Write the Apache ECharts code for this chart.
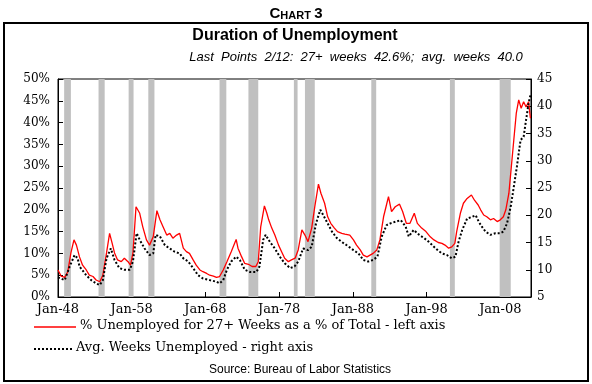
<!DOCTYPE html>
<html><head><meta charset="utf-8">
<script src="https://cdn.jsdelivr.net/npm/echarts@6/dist/echarts.min.js"></script>
<style>html,body{margin:0;padding:0;background:#fff}#c{width:592px;height:384px}</style>
</head><body><div id="c"></div><script>
// % of unemployed out 27+ weeks (left axis)
const redDates = ['1948-01','1948-06','1948-12','1949-05','1949-10','1950-03','1950-07','1950-12','1951-05','1951-11','1952-04','1952-10','1953-03','1953-09','1954-02','1954-08','1955-01','1955-05','1955-09','1956-02','1956-08','1957-01','1957-07','1957-11','1958-03','1958-08','1959-02','1959-07','1960-01','1960-06','1960-12','1961-06','1961-11','1962-04','1962-10','1963-03','1963-08','1964-02','1964-07','1965-01','1965-06','1965-11','1966-05','1966-10','1967-04','1967-09','1968-03','1968-08','1969-02','1969-07','1969-12','1970-06','1970-12','1971-07','1972-03','1972-06','1972-12','1973-05','1973-11','1974-05','1974-11','1975-03','1975-07','1976-01','1976-05','1976-08','1977-01','1977-06','1977-12','1978-05','1978-10','1979-04','1979-09','1980-03','1980-08','1981-02','1981-07','1981-12','1982-06','1982-11','1983-05','1983-09','1984-03','1984-08','1985-01','1985-07','1985-12','1986-07','1986-12','1987-08','1988-02','1988-07','1989-01','1989-06','1989-12','1990-05','1990-10','1991-04','1991-09','1992-03','1992-07','1992-11','1993-04','1993-10','1994-05','1994-10','1995-04','1995-10','1996-05','1996-10','1997-05','1997-12','1998-07','1999-01','1999-08','2000-02','2000-07','2001-01','2001-06','2001-11','2002-02','2002-08','2003-01','2003-07','2004-02','2004-07','2005-01','2005-05','2005-10','2006-03','2006-09','2007-02','2007-08','2008-01','2008-06','2008-10','2009-03','2009-07','2009-11','2010-03','2010-07','2010-11','2011-03','2011-07','2011-11','2012-02'];
const redValues = [6.2,4.8,4.5,5.8,10.1,13.1,11.9,9.2,7.3,6.2,5.0,4.7,3.9,3.5,5.0,10.1,14.6,12.4,10.1,8.5,8.1,8.9,8.1,7.3,10.1,20.7,19.2,16.1,13.1,11.9,13.8,19.8,17.7,16.1,14.2,14.6,13.5,14.2,14.6,11.2,10.4,10.0,8.5,7.3,6.2,5.8,5.4,5.0,4.8,4.5,4.7,6.2,8.1,10.4,13.2,11.2,9.2,7.7,7.5,7.0,7.0,8.1,16.1,20.9,19.2,17.7,15.8,14.2,11.9,10.4,8.9,8.1,8.5,8.9,10.8,15.4,14.2,12.7,15.8,20.7,25.9,23.8,21.5,18.4,16.9,15.8,15.0,14.6,14.4,14.2,13.1,11.9,10.8,9.6,9.2,9.6,10.0,10.8,13.1,18.4,20.7,23.0,19.6,20.7,21.3,19.6,16.9,16.9,19.2,16.9,15.8,15.0,13.8,13.1,12.5,12.3,11.9,11.2,11.5,12.3,15.0,19.2,21.5,22.6,23.4,22.2,21.1,20.0,18.8,18.4,17.7,18.0,17.3,17.7,18.4,20.0,23.8,29.9,36.0,42.1,45.2,43.3,44.8,43.6,44.8,41.0];
// average weeks unemployed (right axis)
const avgDates = ['1948-01','1948-12','1949-08','1950-04','1950-09','1950-12','1951-11','1952-07','1953-03','1953-09','1954-02','1954-08','1955-03','1955-09','1956-05','1957-01','1957-10','1958-03','1958-09','1959-02','1959-10','1960-06','1960-12','1961-04','1961-11','1962-07','1963-03','1963-11','1964-07','1965-01','1965-09','1966-05','1967-01','1967-09','1968-08','1969-07','1969-12','1970-06','1970-12','1971-07','1972-03','1972-09','1973-05','1974-01','1974-12','1975-05','1975-11','1976-03','1976-10','1977-06','1978-02','1978-10','1979-07','1980-02','1980-08','1981-04','1981-12','1982-06','1983-01','1983-08','1984-01','1984-08','1985-03','1985-11','1986-07','1987-03','1988-02','1988-10','1989-06','1990-02','1990-10','1991-05','1991-12','1992-08','1993-02','1993-10','1994-07','1995-03','1995-08','1996-04','1997-01','1997-09','1998-05','1999-01','1999-08','2000-02','2000-10','2001-06','2001-12','2002-05','2002-11','2003-07','2004-03','2004-09','2005-02','2005-07','2006-01','2006-09','2007-05','2008-01','2008-06','2008-12','2009-06','2009-11','2010-04','2010-10','2011-03','2011-07','2011-11','2012-02'];
const avgValues = [8.6,8.1,10.6,12.7,12.1,10.6,9.0,8.1,7.5,7.2,8.1,12.1,13.9,11.8,10.3,10.0,10.0,11.5,16.7,15.5,13.9,12.7,13.0,16.4,16.1,14.5,13.9,13.3,13.0,12.1,11.5,10.3,9.0,8.4,8.1,7.8,7.5,8.1,10.0,11.5,12.4,11.8,10.0,9.6,9.6,10.6,15.5,16.4,15.1,13.9,12.4,11.2,10.3,10.6,11.5,13.9,13.6,14.2,18.5,21.0,20.0,18.5,17.0,15.8,15.1,14.5,13.6,13.0,11.8,11.5,11.8,12.4,16.1,18.2,18.5,18.8,19.1,17.9,16.1,17.3,16.4,15.8,15.1,14.2,13.5,13.0,12.7,12.1,12.4,15.1,17.3,19.4,19.7,20.0,18.8,17.9,17.0,16.4,16.7,16.7,17.0,18.5,21.6,25.2,28.9,33.8,34.4,37.5,40.5,42.0];
// recessions (shaded)
const recessionStart = ['1948-11','1953-07','1957-08','1960-04','1969-12','1973-11','1980-01','1981-07','1990-07','2001-03','2007-12'];
const recessionEnd   = ['1949-10','1954-05','1958-04','1961-02','1970-11','1975-03','1980-07','1982-11','1991-03','2001-11','2009-06'];
const xTickLabels = ['Jan-48','Jan-58','Jan-68','Jan-78','Jan-88','Jan-98','Jan-08'];
const leftTicks = {min: 0, max: 50, step: 5};
const rightTicks = {min: 5, max: 45, step: 5};

function toM(s){ const p = s.split('-').map(Number); return (p[0]-1948)*12 + (p[1]-1); }
const lastM = toM('2012-02') + 1;
const redData = redDates.map((d,i)=>[toM(d), redValues[i]]);
const avgData = avgDates.map((d,i)=>[toM(d), avgValues[i]]);
const bands = recessionStart.map((s,i)=>[{xAxis: toM(s)}, {xAxis: toM(recessionEnd[i])}]);

const serif = 'DejaVu Serif';
const sans = 'Liberation Sans';
const chart = echarts.init(document.getElementById('c'), null, {renderer:'canvas'});
chart.setOption({
  animation: false,
  backgroundColor: '#fff',
  grid: {left: 58, right: 61, top: 79, bottom: 87, show: true, borderColor: '#000', borderWidth: 1, backgroundColor: 'transparent'},
  xAxis: {
    type: 'value', min: 0, max: lastM, interval: 120,
    axisLine: {lineStyle: {color: '#000', width: 1}},
    axisTick: {inside: true, length: 5, lineStyle: {color: '#000'}},
    splitLine: {show: false},
    axisLabel: {showMaxLabel: false, margin: 6, color: '#000', fontFamily: serif, fontSize: 13,
      formatter: v => xTickLabels[Math.round(v/120)] || ''}
  },
  yAxis: [
    {type: 'value', min: leftTicks.min, max: leftTicks.max, interval: leftTicks.step, position: 'left',
     axisLine: {show: true, lineStyle: {color: '#000'}},
     axisTick: {show: true, inside: true, length: 5, lineStyle: {color: '#000'}},
     splitLine: {show: false},
     axisLabel: {margin: 8, color: '#000', fontFamily: serif, fontSize: 12, formatter: '{value}%'}},
    {type: 'value', min: rightTicks.min, max: rightTicks.max, interval: rightTicks.step, position: 'right',
     axisLine: {show: true, lineStyle: {color: '#000'}},
     axisTick: {show: true, inside: true, length: 5, lineStyle: {color: '#000'}},
     splitLine: {show: false},
     axisLabel: {margin: 6, color: '#000', fontFamily: serif, fontSize: 12}}
  ],
  series: [
    {type: 'line', name: 'rec', data: [], z: 1, silent: true,
     markArea: {silent: true, itemStyle: {color: '#c0c0c0'}, data: bands}},
    {type: 'line', name: 'red', yAxisIndex: 0, data: redData, showSymbol: false, z: 3,
     lineStyle: {color: '#ff0000', width: 1.3}},
    {type: 'line', name: 'avg', yAxisIndex: 1, data: avgData, showSymbol: false, z: 4,
     lineStyle: {color: '#000', width: 2, type: [2, 2]}}
  ],
  graphic: [
    {type: 'rect', shape: {x: 4, y: 23, width: 584, height: 358}, style: {fill: 'none', stroke: '#000', lineWidth: 2}, z: 10},
    {type: 'text', x: 296, y: 13, style: {text: '{a|C}{b|HART} {a|3}', align: 'center', verticalAlign: 'middle',
      rich: {a: {fontFamily: sans, fontWeight: 'bold', fontSize: 15, lineHeight: 16, verticalAlign: 'bottom'},
             b: {fontFamily: sans, fontWeight: 'bold', fontSize: 11, lineHeight: 16, verticalAlign: 'bottom'}}}},
    {type: 'text', x: 295, y: 36, style: {text: 'Duration of Unemployment', font: 'bold 16px "Liberation Sans"', fill: '#000', align: 'center', verticalAlign: 'middle'}},
    {type: 'text', x: 356, y: 57, style: {text: 'Last  Points  2/12:  27+  weeks  42.6%;  avg.  weeks  40.0', font: 'italic 13px "Liberation Sans"', fill: '#000', align: 'center', verticalAlign: 'middle'}},
    {type: 'line', shape: {x1: 34, y1: 327, x2: 76, y2: 327}, style: {stroke: '#ff0000', lineWidth: 1.3}},
    {type: 'text', x: 80, y: 326, style: {text: '% Unemployed for 27+ Weeks as a % of Total - left axis', font: '13px "DejaVu Serif"', fill: '#000', align: 'left', verticalAlign: 'middle'}},
    {type: 'line', shape: {x1: 34, y1: 349, x2: 74, y2: 349}, style: {stroke: '#000', lineWidth: 2, lineDash: [2, 2]}},
    {type: 'text', x: 76, y: 348, style: {text: 'Avg. Weeks Unemployed - right axis', font: '13px "DejaVu Serif"', fill: '#000', align: 'left', verticalAlign: 'middle'}},
    {type: 'text', x: 300, y: 370, style: {text: 'Source: Bureau of Labor Statistics', font: '12px "Liberation Sans"', fill: '#000', align: 'center', verticalAlign: 'middle'}}
  ]
});
</script></body></html>
